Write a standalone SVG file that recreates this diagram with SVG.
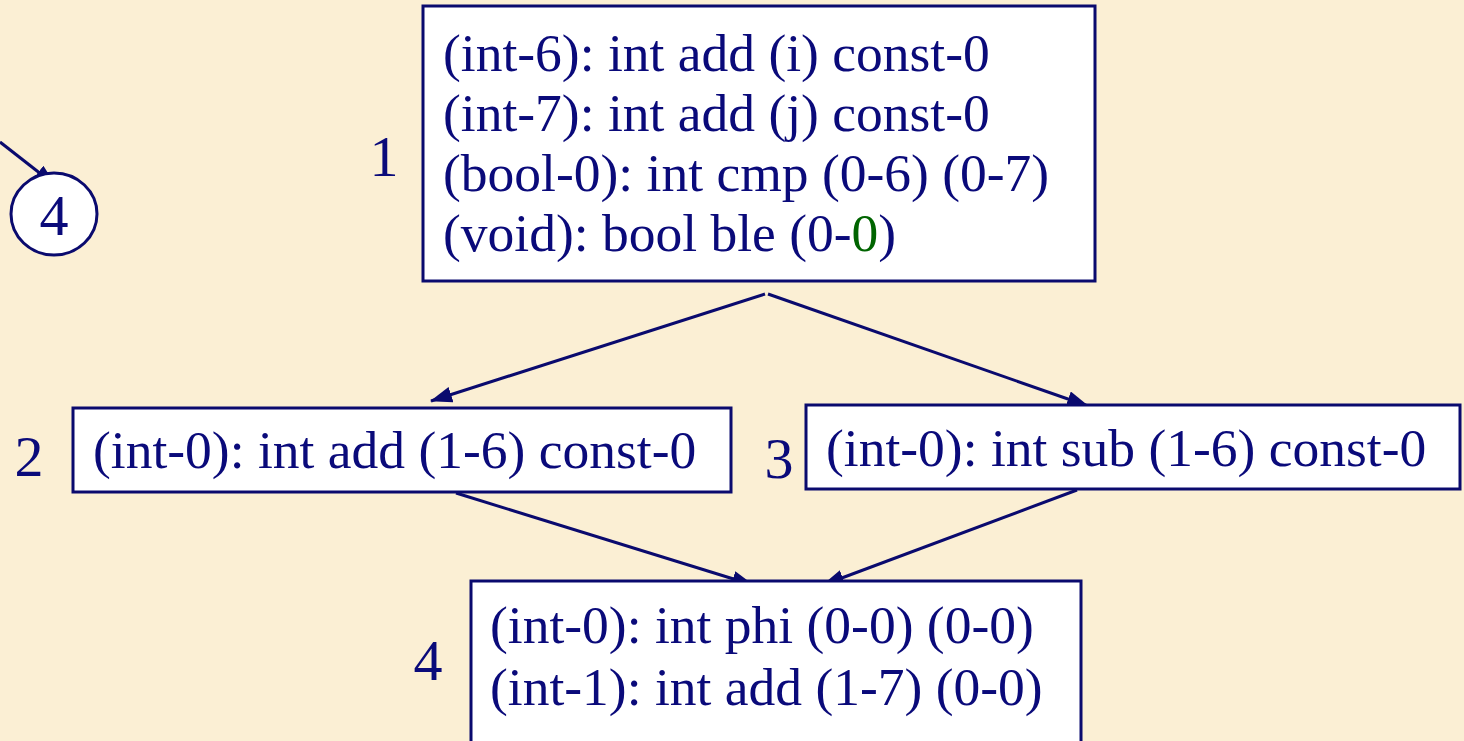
<svg xmlns="http://www.w3.org/2000/svg" width="1464" height="741" viewBox="0 0 1464 741">
<style>
.box{fill:#ffffff;stroke:#0a0a6e;stroke-width:3}
.t{font-family:"Liberation Serif","Times New Roman",serif;font-size:53.5px;fill:#0a0a7a}
.lbl{font-family:"Liberation Serif","Times New Roman",serif;font-size:58px;fill:#0a0a7a}
.g{fill:#006400}
.c{stroke:#0a0a6e;stroke-width:3;fill:none;marker-end:url(#ah)}
</style>
<defs>
<marker id="ah" viewBox="0 0 22 16" refX="21" refY="8" markerWidth="22" markerHeight="16" markerUnits="userSpaceOnUse" orient="auto">
<path d="M0,0 L22,8 L0,16 Z" fill="#0a0a6e"/>
</marker>
</defs>
<rect x="0" y="0" width="1464" height="741" fill="#fbefd4"/>
<g id="connectors">
<line class="c" x1="0" y1="142" x2="55" y2="185"/>
<line class="c" x1="765" y1="294" x2="431" y2="401"/>
<line class="c" x1="768" y1="294" x2="1088" y2="406"/>
<line class="c" x1="456" y1="493" x2="753" y2="585"/>
<line class="c" x1="1077" y1="490" x2="823" y2="585"/>
</g>
<g id="circle4">
<ellipse cx="54" cy="214" rx="43" ry="41" class="box"/>
<text class="lbl" x="54" y="235" text-anchor="middle">4</text>
</g>
<g id="node1">
<rect class="box" x="423" y="6" width="672" height="275"/>
<text class="lbl" x="384" y="176" text-anchor="middle">1</text>
<text class="t" x="443" y="71">(int-6): int add (i) const-0</text>
<text class="t" x="443" y="131">(int-7): int add (j) const-0</text>
<text class="t" x="443" y="191">(bool-0): int cmp (0-6) (0-7)</text>
<text class="t" x="443" y="251">(void): bool ble (0-<tspan class="g">0</tspan>)</text>
</g>
<g id="node2">
<rect class="box" x="73" y="408" width="658" height="84"/>
<text class="lbl" x="29" y="476" text-anchor="middle">2</text>
<text class="t" x="93" y="468">(int-0): int add (1-6) const-0</text>
</g>
<g id="node3">
<rect class="box" x="806" y="405" width="654" height="84"/>
<text class="lbl" x="779" y="478" text-anchor="middle">3</text>
<text class="t" x="826" y="466">(int-0): int sub (1-6) const-0</text>
</g>
<g id="node4">
<rect class="box" x="471" y="581" width="610" height="175"/>
<text class="lbl" x="428" y="680" text-anchor="middle">4</text>
<text class="t" x="490" y="643">(int-0): int phi (0-0) (0-0)</text>
<text class="t" x="490" y="705">(int-1): int add (1-7) (0-0)</text>
</g>
</svg>
